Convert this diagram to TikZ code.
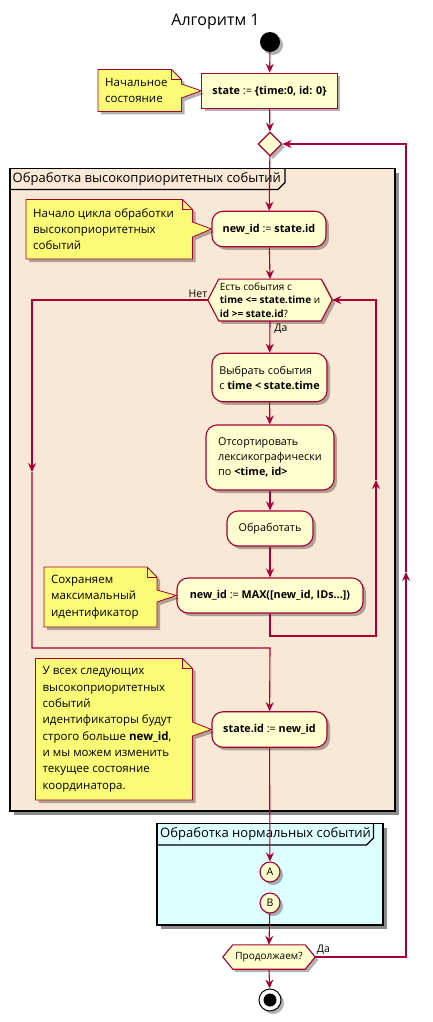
\documentclass[tikz,border=0pt]{standalone}
\usepackage{fontspec}
\setmainfont{Open Sans}
\usetikzlibrary{shapes.geometric,shadows,arrows.meta}
\definecolor{umlred}{HTML}{A80036}
\definecolor{boxfill}{HTML}{FEFECE}
\definecolor{notefill}{HTML}{FBFB77}
\definecolor{partA}{HTML}{F9E8D5}
\definecolor{partB}{HTML}{DDFFFF}
\tikzset{
  shad/.style={drop shadow={opacity=0.3, shadow xshift=3pt, shadow yshift=-3pt, fill=black}},
  pshad/.style={drop shadow={opacity=0.45, shadow xshift=4pt, shadow yshift=-4pt, fill=black}},
  body/.style={font=\fontsize{10.8}{15}\selectfont},
  actbox/.style={draw=umlred, fill=boxfill, line width=1.1pt, rounded corners=11pt, inner sep=0pt, shad, body, align=left},
  sqbox/.style={draw=umlred, fill=boxfill, line width=1.1pt, inner sep=0pt, shad, body, align=left},
  hexframe/.style={draw=none, inner sep=0pt},
  hexshape/.style={draw=umlred, fill=boxfill, line width=1.1pt, shad},
  hextext/.style={font=\fontsize{10}{13.5}\selectfont, align=left, inner sep=0pt},
  notebody/.style={draw=umlred, fill=notefill, line width=0.8pt, shad},
  notefold/.style={draw=umlred, line width=0.8pt},
  notetext/.style={font=\fontsize{11.5}{16.3}\selectfont, align=left, inner sep=0pt, anchor=west},
  flow/.style={draw=umlred, line width=1.1pt, -{Stealth[length=9pt,width=8pt,inset=3pt]}},
  lbl/.style={font=\fontsize{10.5}{12}\selectfont, inner sep=0pt},
  parttitle/.style={font=\fontsize{13}{16}\selectfont, inner sep=0pt, anchor=west},
  conn/.style={circle, draw=umlred, fill=boxfill, line width=1.1pt, minimum size=20pt, inner sep=0pt, shad, font=\fontsize{10.5}{12}\selectfont},
}
\begin{document}
\begin{tikzpicture}[x=1pt, y=-1pt]
\useasboundingbox (0,0) rectangle (433,1022);
% title
\node[font=\fontsize{16}{18}\selectfont, inner sep=0pt] (title) at (215.5,22) {Алгоритм 1};

% partitions
\filldraw[fill=partA, draw=black, line width=1.5pt, pshad] (10,168.5) rectangle (395,811);
\draw[black, line width=1.2pt] (10,189.5) -- (278,189.5) -- (285,182.5) -- (285,168.5);
\node[parttitle] (p1title) at (12.5,179) {Обработка высокоприоритетных событий};

\filldraw[fill=partB, draw=black, line width=1.5pt, pshad] (157,823.5) rectangle (383,925);
\draw[black, line width=1.2pt] (157,845) -- (366.5,845) -- (373.5,838) -- (373.5,823.5);
\node[parttitle] (p2title) at (160,834.5) {Обработка нормальных событий};

% nodes
\node[circle, fill=black, minimum size=20pt, inner sep=0pt, shad] (start) at (270,42) {};
\node[sqbox, minimum width=135.5pt, minimum height=35pt] (state0) at (269.5,90.8)
  {\textbf{state} := \textbf{\{time:0, id: 0\}}};
\node[diamond, draw=umlred, fill=boxfill, line width=1.1pt, minimum size=24pt, inner sep=0pt, aspect=1, shad] (merge) at (270,144) {};
\node[actbox, minimum width=114pt, minimum height=35.5pt] (newid) at (269,229)
  {\textbf{new\_id} := \textbf{state.id}};

\node[hexframe, minimum width=124pt, minimum height=41.5pt] (h1) at (270,300) {};
\filldraw[hexshape] (h1.west) -- ([xshift=11pt]h1.north west) -- ([xshift=-11pt]h1.north east) -- (h1.east)
  -- ([xshift=-11pt]h1.south east) -- ([xshift=11pt]h1.south west) -- cycle;
\node[hextext] (h1text) at (270,300)
  {Есть события с\\ \textbf{time <= state.time} и\\ \textbf{id >= state.id}?};

\node[actbox, minimum width=115pt, minimum height=48.5pt] (select) at (269.5,377.5)
  {Выбрать события\\с \textbf{time < state.time}};
\node[actbox, minimum width=128pt, minimum height=65pt] (sort) at (270,457.5)
  {Отсортировать\\лексикографически\\по \textbf{<time, id>}};
\node[actbox, minimum width=86pt, minimum height=35pt] (process) at (270,528.5)
  {Обработать};
\node[actbox, minimum width=186pt, minimum height=35pt] (max) at (270,595.5)
  {\textbf{new\_id} := \textbf{MAX([new\_id, IDs...])}};
\node[actbox, minimum width=115pt, minimum height=35.5pt] (stateid) at (269.5,729.5)
  {\textbf{state.id} := \textbf{new\_id}};

\node[conn] (A) at (270,872) {A};
\node[conn] (B) at (270,903) {B};

\node[hexframe, minimum width=92pt, minimum height=24pt] (h2) at (269,957) {};
\filldraw[hexshape] (h2.west) -- ([xshift=10pt]h2.north west) -- ([xshift=-10pt]h2.north east) -- (h2.east)
  -- ([xshift=-10pt]h2.south east) -- ([xshift=10pt]h2.south west) -- cycle;
\node[hextext] (h2text) at (269,957) {Продолжаем?};

\node[circle, draw=black, fill=white, line width=1pt, minimum size=22pt, inner sep=0pt, shad] (end) at (270,1000) {};
\fill[black] (end.center) circle (6.5pt);

% notes
\filldraw[notebody] (98,69.5) -- (171.5,69.5) -- (181.5,79.5) -- (181.5,84) -- (state0.west) -- (181.5,98) -- (181.5,111.5) -- (98,111.5) -- cycle;
\draw[notefold] (171.5,69.5) -- (171.5,79.5) -- (181.5,79.5);
\node[notetext] (n1) at (105,90.5) {Начальное\\состояние};

\filldraw[notebody] (26,199.5) -- (182.5,199.5) -- (192.5,209.5) -- (192.5,222) -- (newid.west) -- (192.5,237) -- (192.5,259) -- (26,259) -- cycle;
\draw[notefold] (182.5,199.5) -- (182.5,209.5) -- (192.5,209.5);
\node[notetext] (n2) at (33,229.3) {Начало цикла обработки\\высокоприоритетных\\событий};

\filldraw[notebody] (44,567) -- (147,567) -- (157,577) -- (157,590) -- (max.west) -- (157,602) -- (157,627) -- (44,627) -- cycle;
\draw[notefold] (147,567) -- (147,577) -- (157,577);
\node[notetext] (n3) at (51,597) {Сохраняем\\максимальный\\идентификатор};

\filldraw[notebody] (35.5,658.5) -- (182.5,658.5) -- (192.5,668.5) -- (192.5,722) -- (stateid.west) -- (192.5,736) -- (192.5,800) -- (35.5,800) -- cycle;
\draw[notefold] (182.5,658.5) -- (182.5,668.5) -- (192.5,668.5);
\node[notetext] (n4) at (42.5,729.3) {У всех следующих\\высокоприоритетных\\событий\\идентификаторы будут\\строго больше \textbf{new\_id},\\и мы можем изменить\\текущее состояние\\координатора.};

% coordinates
\coordinate (c1) at (270,636);
\coordinate (c2) at (376,636);
\coordinate (c3) at (376,480);
\coordinate (c4) at (376,300);
\coordinate (d1) at (32,300);
\coordinate (d2) at (32,472);
\coordinate (d3) at (32,648);
\coordinate (d4) at (270,648);
\coordinate (e1) at (406,957);
\coordinate (e2) at (406,572);
\coordinate (e3) at (406,144);

% edges
\draw[flow] (start) -- (state0);
\draw[flow] (state0) -- (merge);
\draw[flow] (merge) -- (newid);
\draw[flow] (newid) -- (h1.north);
\draw[flow] (h1.south) -- (select);
\draw[flow] (select) -- (sort);
\draw[flow] (sort) -- (process);
\draw[flow] (process) -- (max);
\draw[flow] (max) -- (c1) -- (c2) -- (c3);
\draw[flow] (c3) -- (c4) -- (h1.east);
\draw[flow] (h1.west) -- (d1) -- (d2);
\draw[flow] (d2) -- (d3) -- (d4) -- (stateid);
\draw[flow] (stateid) -- (A);
\draw[flow] (B) -- (h2.north);
\draw[flow] (h2.south) -- (end);
\draw[flow] (h2.east) -- (e1) -- (e2);
\draw[flow] (e2) -- (e3) -- (merge.east);

% labels
\node[lbl] (lno) at (198,293.5) {Нет};
\node[lbl] (lyes1) at (281,329) {Да};
\node[lbl] (lyes2) at (323.5,950) {Да};
\end{tikzpicture}
\end{document}
